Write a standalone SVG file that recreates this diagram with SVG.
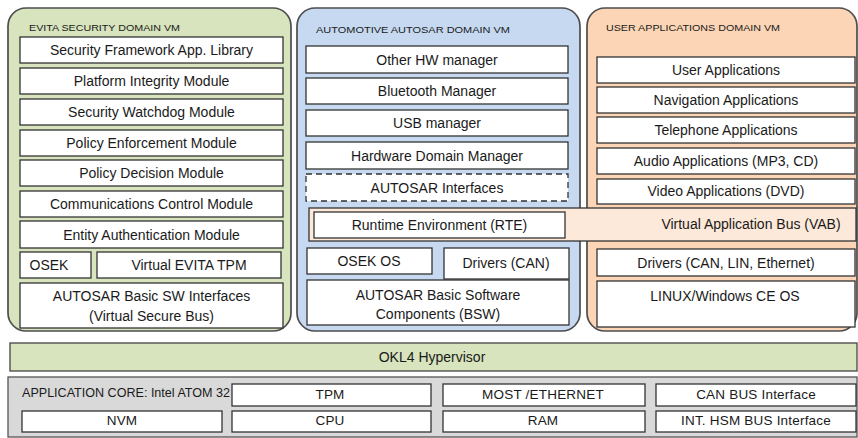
<svg xmlns="http://www.w3.org/2000/svg" width="858" height="438" viewBox="0 0 858 438">
<style>
.bg{fill:#ffffff}
.panel{stroke:#4d4d4d;stroke-width:1.7}
.g{fill:#d7e4bd}
.b{fill:#c6d9f1}
.o{fill:#fbd5b5}
.box{fill:#ffffff;stroke:#333333;stroke-width:1.3}
.dash{fill:#ffffff;stroke:#333333;stroke-width:1.3;stroke-dasharray:6 4}
.band{fill:#fde9d9;stroke:#333333;stroke-width:1.3}
.hyp{fill:#d7e4bd;stroke:#444444;stroke-width:1.3}
.hw{fill:#d9d9d9;stroke:#555555;stroke-width:1.3}
text{font-family:"Liberation Sans",Arial,sans-serif;fill:#1a1a1a}
.t{font-size:14px;text-anchor:middle}
.h{font-size:9.5px}
.s{font-size:12.5px}
.sc{font-size:13.5px;text-anchor:middle;letter-spacing:0.2px}
</style>
<rect class="bg" x="0" y="0" width="858" height="438"/>

<g id="evita-vm">
<rect class="panel g" x="8" y="8" width="283" height="323" rx="18"/>
<text class="h" x="29" y="31" textLength="151" lengthAdjust="spacingAndGlyphs">EVITA SECURITY DOMAIN VM</text>
</g>
<g id="sec-framework"><rect class="box" x="20" y="37" width="263" height="26"/><text class="t" x="151.5" y="55">Security Framework App. Library</text></g>
<g id="platform-integrity"><rect class="box" x="20" y="68" width="263" height="26"/><text class="t" x="151.5" y="86">Platform Integrity Module</text></g>
<g id="watchdog"><rect class="box" x="20" y="99" width="263" height="26"/><text class="t" x="151.5" y="117">Security Watchdog Module</text></g>
<g id="policy-enforcement"><rect class="box" x="20" y="130" width="263" height="26"/><text class="t" x="151.5" y="148">Policy Enforcement Module</text></g>
<g id="policy-decision"><rect class="box" x="20" y="160" width="263" height="26"/><text class="t" x="151.5" y="178">Policy Decision Module</text></g>
<g id="comm-control"><rect class="box" x="20" y="191" width="263" height="26"/><text class="t" x="151.5" y="209">Communications Control Module</text></g>
<g id="entity-auth"><rect class="box" x="20" y="221" width="263" height="27"/><text class="t" x="151.5" y="240">Entity Authentication Module</text></g>
<g id="osek"><rect class="box" x="20" y="252" width="71" height="26"/><text class="t" x="49" y="270">OSEK</text></g>
<g id="virtual-tpm"><rect class="box" x="97" y="252" width="184" height="26"/><text class="t" x="189" y="270">Virtual EVITA TPM</text></g>
<g id="autosar-basic-sw"><rect class="box" x="20" y="283" width="263" height="45"/><text class="t" x="151.5" y="301">AUTOSAR Basic SW Interfaces</text><text class="t" x="151.5" y="321">(Virtual Secure Bus)</text></g>

<g id="autosar-vm">
<rect class="panel b" x="297" y="8" width="283" height="323" rx="18"/>
<text class="h" x="316" y="33" textLength="194" lengthAdjust="spacingAndGlyphs">AUTOMOTIVE AUTOSAR DOMAIN VM</text>
</g>

<g id="user-vm">
<rect class="panel o" x="587" y="8" width="270" height="323" rx="18"/>
<text class="h" x="606" y="31" textLength="174" lengthAdjust="spacingAndGlyphs">USER APPLICATIONS DOMAIN VM</text>
</g>

<g id="other-hw"><rect class="box" x="306" y="46" width="262" height="27"/><text class="t" x="437" y="65">Other HW manager</text></g>
<g id="bluetooth"><rect class="box" x="306" y="78" width="262" height="26"/><text class="t" x="437" y="96">Bluetooth Manager</text></g>
<g id="usb"><rect class="box" x="306" y="110" width="262" height="26"/><text class="t" x="437" y="128">USB manager</text></g>
<g id="hw-domain"><rect class="box" x="306" y="142" width="262" height="27"/><text class="t" x="437" y="161">Hardware Domain Manager</text></g>
<g id="autosar-interfaces"><rect class="dash" x="306" y="174" width="262" height="27"/><text class="t" x="437" y="193">AUTOSAR Interfaces</text></g>

<g id="vab"><rect class="band" x="309" y="208" width="547" height="33"/><text class="t" x="751" y="229">Virtual Application Bus (VAB)</text></g>
<g id="rte"><rect class="box" x="314" y="212" width="251" height="26"/><text class="t" x="439.5" y="230">Runtime Environment (RTE)</text></g>

<g id="osek-os"><rect class="box" x="307" y="248" width="125" height="26"/><text class="t" x="369" y="266">OSEK OS</text></g>
<g id="drivers-can"><rect class="box" x="444" y="248" width="125" height="31"/><text class="t" x="506" y="268">Drivers (CAN)</text></g>
<g id="autosar-bsw"><rect class="box" x="307" y="280" width="262" height="45"/><text class="t" x="438" y="300">AUTOSAR Basic Software</text><text class="t" x="438" y="319">Components (BSW)</text></g>

<g id="user-apps"><rect class="box" x="597" y="57" width="258" height="26"/><text class="t" x="726" y="75">User Applications</text></g>
<g id="nav-apps"><rect class="box" x="597" y="87" width="258" height="26"/><text class="t" x="726" y="105">Navigation Applications</text></g>
<g id="tel-apps"><rect class="box" x="597" y="117" width="258" height="26"/><text class="t" x="726" y="135">Telephone Applications</text></g>
<g id="audio-apps"><rect class="box" x="597" y="148" width="258" height="26"/><text class="t" x="726" y="166">Audio Applications (MP3, CD)</text></g>
<g id="video-apps"><rect class="box" x="597" y="179" width="258" height="25"/><text class="t" x="726" y="196">Video Applications (DVD)</text></g>
<g id="drivers-linux"><rect class="box" x="597" y="249" width="258" height="27"/><text class="t" x="726" y="268">Drivers (CAN, LIN, Ethernet)</text></g>
<g id="linux-os"><rect class="box" x="597" y="281" width="258" height="46"/><text class="t" x="725" y="301">LINUX/Windows CE OS</text></g>

<g id="okl4"><rect class="hyp" x="10" y="343" width="847" height="28"/><text class="t" x="432" y="362">OKL4 Hypervisor</text></g>

<g id="app-core">
<rect class="hw" x="8" y="377" width="849" height="60"/>
<text class="s" x="22" y="397" textLength="208" lengthAdjust="spacingAndGlyphs">APPLICATION CORE: Intel ATOM 32</text>
</g>
<g id="tpm"><rect class="box" x="232" y="384" width="199" height="22"/><text class="sc" x="330" y="399">TPM</text></g>
<g id="most-eth"><rect class="box" x="443" y="384" width="202" height="22"/><text class="sc" x="543" y="399">MOST /ETHERNET</text></g>
<g id="can-bus"><rect class="box" x="656" y="384" width="200" height="22"/><text class="sc" x="756" y="399">CAN BUS Interface</text></g>
<g id="nvm"><rect class="box" x="22" y="411" width="200" height="21"/><text class="sc" x="122" y="425">NVM</text></g>
<g id="cpu"><rect class="box" x="232" y="411" width="199" height="21"/><text class="sc" x="330" y="425">CPU</text></g>
<g id="ram"><rect class="box" x="443" y="411" width="202" height="21"/><text class="sc" x="543" y="425">RAM</text></g>
<g id="int-hsm"><rect class="box" x="656" y="411" width="200" height="21"/><text class="sc" x="756" y="425">INT. HSM BUS Interface</text></g>

<g id="connectors"></g>
</svg>
